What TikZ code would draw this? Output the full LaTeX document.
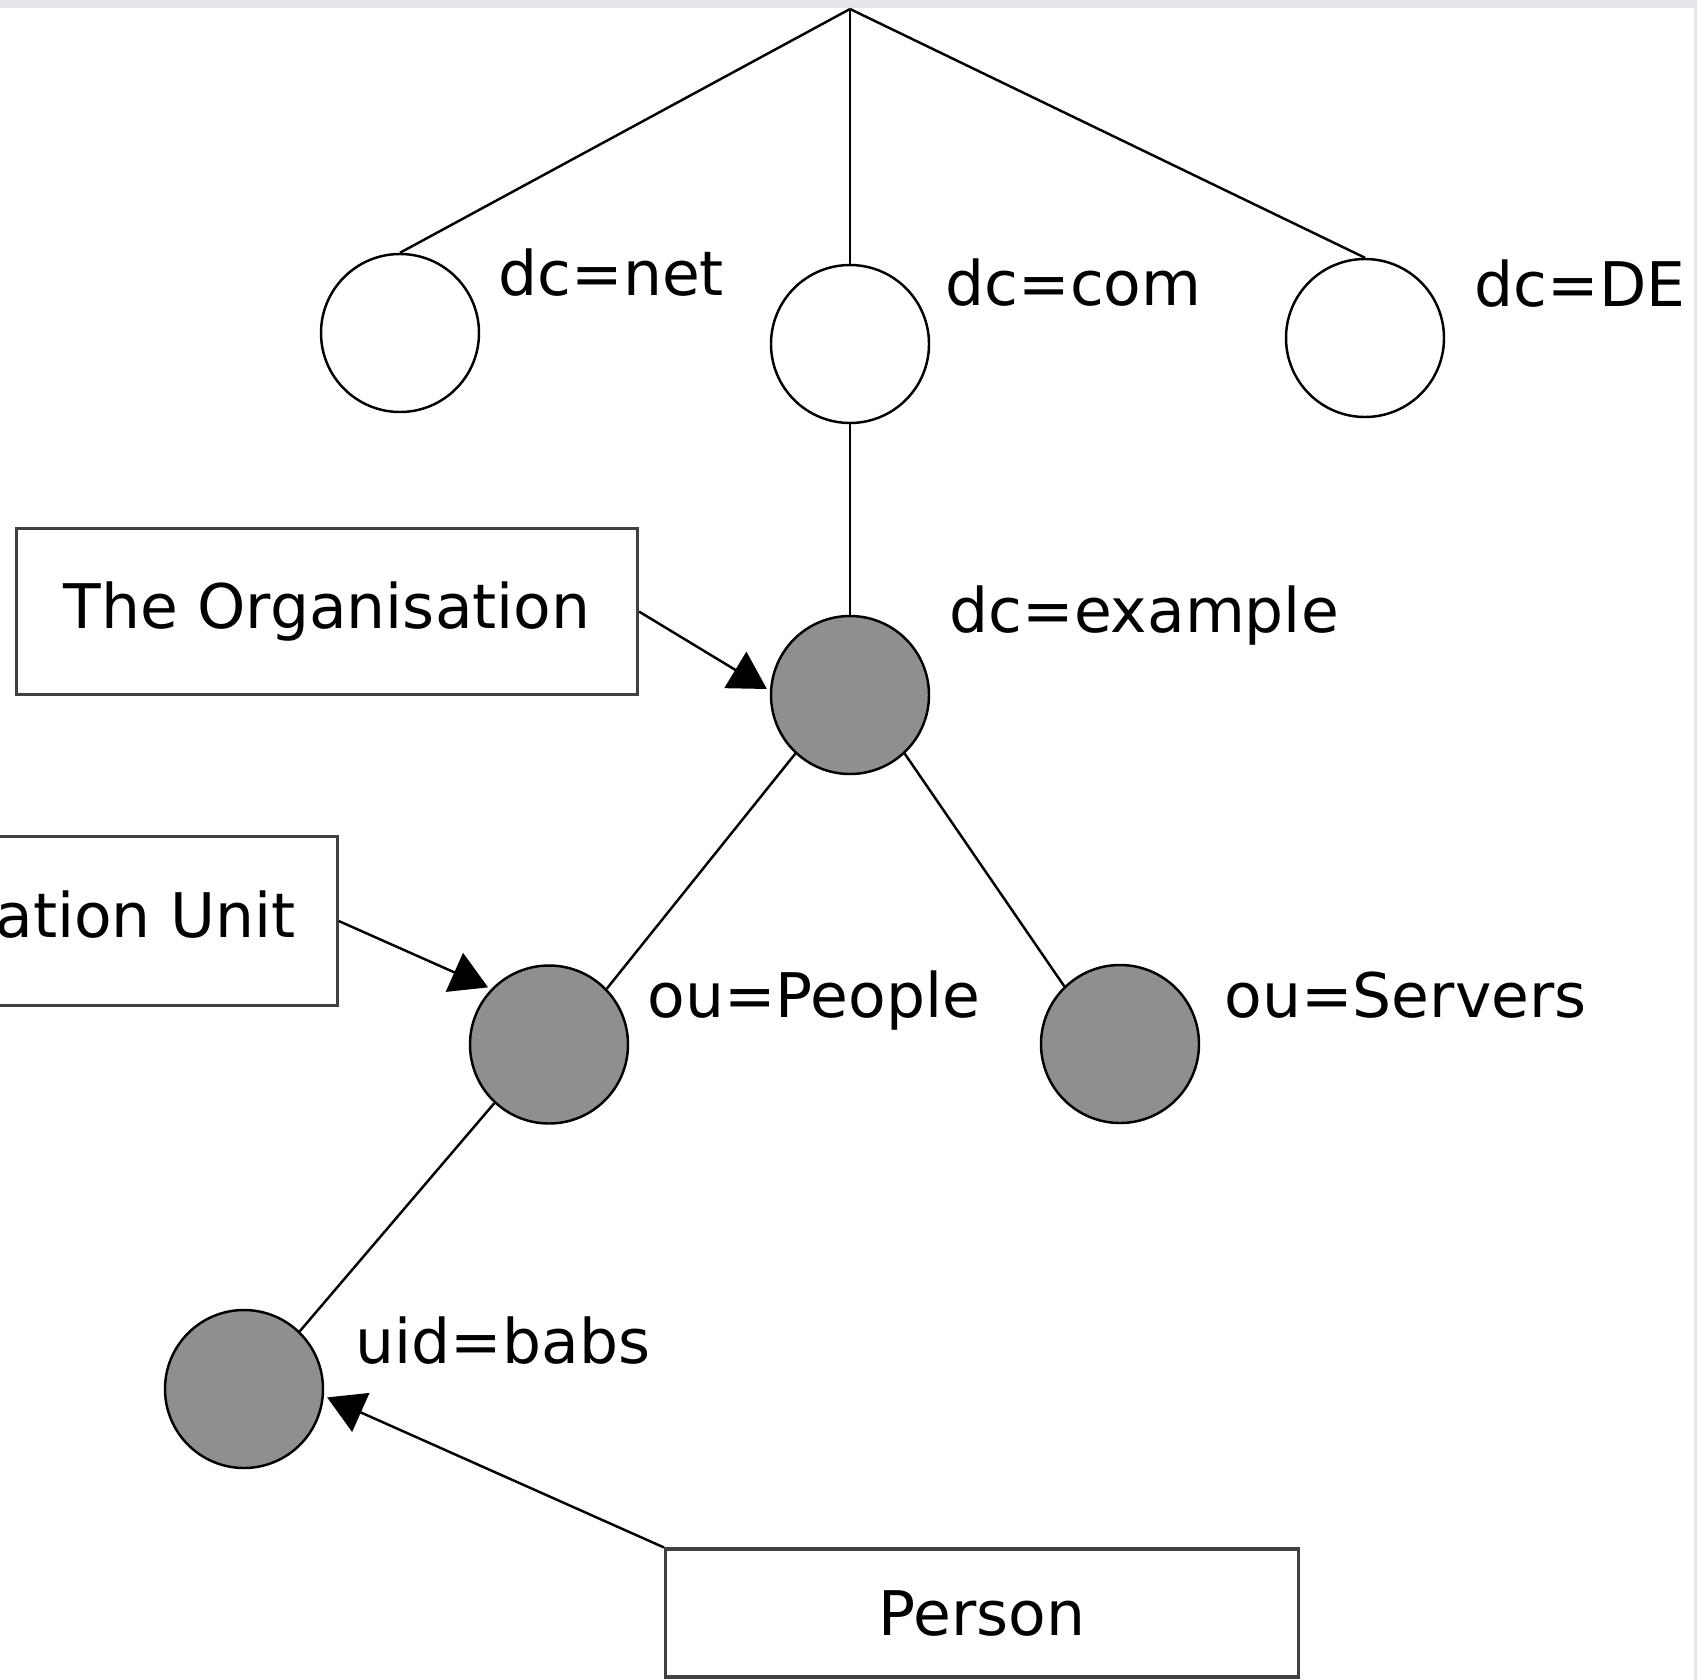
\documentclass[tikz,border=0pt]{standalone}
\usepackage{fontspec}
\setmainfont{DejaVu Sans}
\usetikzlibrary{arrows.meta}
\definecolor{bandgray}{RGB}{230,231,235}

\begin{document}
\begin{tikzpicture}[
	font=\fontsize{17.5}{21}\selectfont,
	entry/.style={circle, draw, line width=0.7pt, minimum size=1.58cm, inner sep=0pt},
	leaf/.style={entry, fill=black!44},
	lbl/.style={anchor=base west, inner sep=0pt},
	objbox/.style={rectangle, draw=black!75, line width=0.9pt, minimum width=6.21cm, minimum height=1.66cm},
	pointer/.style={-{Triangle[length=10.5pt,width=12pt]}, line width=0.7pt, shorten >=1pt}
]
	\useasboundingbox (0,0) rectangle (16.97,-16.80);
	\clip (0,0) rectangle (16.97,-16.80);
	\fill[bandgray] (0,0) rectangle (16.97,-0.08);
	\fill[bandgray] (16.94,0) rectangle (16.97,-16.80);

	\coordinate (root) at (8.50,-0.09);
	\node (net) at (4.00,-3.33) [entry] {};
	\node (com) at (8.50,-3.44) [entry] {};
	\node (de) at (13.65,-3.38) [entry] {};
		\node (example) at (8.50,-6.95) [leaf] {};
			\node (people) at (5.49,-10.445) [leaf] {};
			\node (servers) at (11.20,-10.44) [leaf] {};
				\node (babs) at (2.44,-13.89) [leaf] {};

	\node (netlbl) at (4.98,-2.95) [lbl] {dc=net};
	\node (comlbl) at (9.45,-3.05) [lbl] {dc=com};
	\node (delbl) at (14.74,-3.06) [lbl] {dc=DE};
	\node (examplelbl) at (9.49,-6.32) [lbl] {dc=example};
	\node (peoplelbl) at (6.47,-10.17) [lbl] {ou=People};
	\node (serverslbl) at (12.24,-10.17) [lbl] {ou=Servers};
	\node (babslbl) at (3.55,-13.635) [lbl] {uid=babs};

	\node (org) at (3.27,-6.116) [objbox] {The Organisation};
	\node (unit) at (3.388,-9.21) [objbox, anchor=east, minimum height=1.69cm] {Organisation Unit};
	\node (person) at (9.82,-16.13) [objbox, minimum width=6.33cm, minimum height=1.28cm] {Person};

	\draw[line width=0.7pt] (root) -- (net.north);
	\draw[line width=0.7pt] (root) -- (com.north);
	\draw[line width=0.7pt] (root) -- (de.north);
	\draw[line width=0.7pt] (com) -- (example);
	\draw[line width=0.7pt] (example.227) -- (people.44);
	\draw[line width=0.7pt] (example.313) -- (servers.134);
	\draw[line width=0.7pt] (people.227) -- (babs.46);

	\draw[pointer] (org.east) -- (example.177);
	\draw[pointer] (unit.east) -- (people.136);
	\draw[pointer] (person.north west) -- (babs.-5);
\end{tikzpicture}
\end{document}
